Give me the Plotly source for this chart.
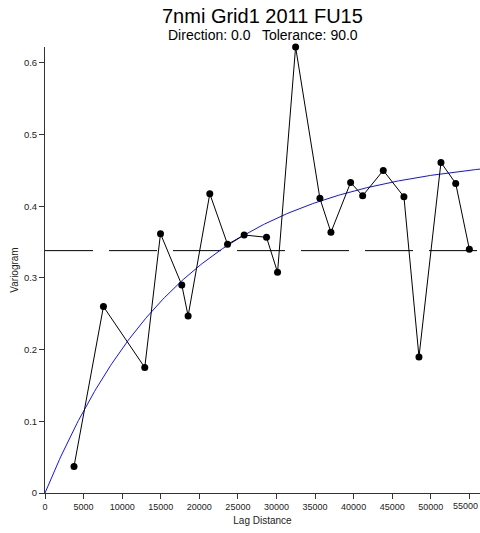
import numpy as np
import plotly.graph_objects as go

# Experimental variogram (lag distance, value)
lags = [3760, 7575, 12930, 14970, 17730, 18550, 21360, 23660, 25810, 28710, 30140,
        32480, 35630, 37060, 39610, 41170, 43840, 46520, 48470, 51320, 53230, 55000]
gamma = [0.037, 0.260, 0.175, 0.3616, 0.290, 0.247, 0.4173, 0.3468, 0.3598, 0.3566, 0.3078,
         0.622, 0.4109, 0.3635, 0.4331, 0.4145, 0.4499, 0.4131, 0.1898, 0.461, 0.4318, 0.340]

# Sample variance (dashed) and exponential model parameters
variance = 0.338
model_sill = 0.4723
model_range = 18000.0

x_max = 56380
y_max = 0.622

x_ticks = [0, 5000, 10000, 15000, 20000, 25000, 30000, 35000, 40000, 45000, 50000, 55000]
x_ticktext = [str(v) for v in x_ticks]

title = "7nmi Grid1 2011 FU15"
subtitle = "Direction: 0.0   Tolerance: 90.0"
x_title = "Lag Distance"
y_title = "Variogram"

hx = np.linspace(0, x_max, 300)
hy = model_sill * (1 - np.exp(-hx / model_range))

fig = go.Figure()
fig.add_trace(go.Scatter(x=[0, x_max], y=[variance, variance], mode="lines",
                         line=dict(color="black", width=1, dash="48px,16px"),
                         hoverinfo="skip", showlegend=False))
fig.add_trace(go.Scatter(x=hx, y=hy, mode="lines",
                         line=dict(color="#1010ff", width=1), showlegend=False))
fig.add_trace(go.Scatter(x=lags, y=gamma, mode="lines+markers",
                         line=dict(color="black", width=1),
                         marker=dict(color="black", size=7),
                         cliponaxis=False, showlegend=False))

font_family = "Liberation Sans, Arial, sans-serif"
plot_h = 533 - 47 - 40
# last tick label is drawn shifted left so it fits inside the page
shown_text = x_ticktext[:-1] + [""]
fig.update_layout(
    width=480, height=533,
    margin=dict(l=45, r=0, t=47, b=40),
    paper_bgcolor="white", plot_bgcolor="white",
    font=dict(family=font_family, color="#222"),
    annotations=[
        dict(text=title, x=0.5, y=1 + (47 - 16) / plot_h, xref="paper", yref="paper",
             yanchor="middle", showarrow=False, font=dict(size=20, color="black")),
        dict(text=subtitle, x=0.5, y=1 + (47 - 35) / plot_h, xref="paper", yref="paper",
             yanchor="middle", showarrow=False, font=dict(size=14, color="black")),
        dict(text=x_ticktext[-1], x=x_ticks[-1], xref="x", y=0, yref="paper",
             xshift=-4, yshift=-13, yanchor="middle", showarrow=False,
             font=dict(size=9, color="#222")),
    ],
)

fig.update_xaxes(range=[0, x_max], tickvals=x_ticks, ticktext=shown_text,
                 showgrid=False, zeroline=False, showline=True, linecolor="#333",
                 linewidth=1, ticks="outside", ticklen=5, tickcolor="#333",
                 automargin=False,
                 tickfont=dict(size=9, color="#222"),
                 title=dict(text=x_title, font=dict(size=10, color="#222"), standoff=6))
fig.update_yaxes(range=[0, y_max], dtick=0.1, tick0=0,
                 showgrid=False, zeroline=False, showline=True, linecolor="#333",
                 linewidth=1, ticks="outside", ticklen=5, tickcolor="#333",
                 tickfont=dict(size=9.5, color="#222"),
                 title=dict(text=y_title, font=dict(size=10, color="#222"), standoff=3))

fig.write_html("out.html")
